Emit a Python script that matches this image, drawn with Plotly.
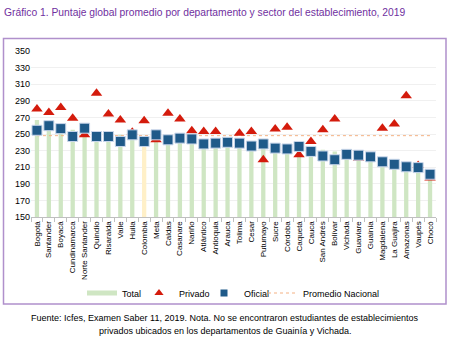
import plotly.graph_objects as go

categories = ["Bogotá", "Santander", "Boyacá", "Cundinamarca", "Norte Santander", "Quindío",
              "Risaralda", "Valle", "Huila", "Colombia", "Meta", "Caldas", "Casanare", "Nariño",
              "Atlántico", "Antioquia", "Arauca", "Tolima", "Cesar", "Putumayo", "Sucre",
              "Córdoba", "Caquetá", "Cauca", "San Andrés", "Bolívar", "Vichada", "Guaviare",
              "Guainía", "Magdalena", "La Guajira", "Amazonas", "Vaupés", "Chocó"]

total = [267, 262, 259, 255, 254, 250, 250, 249, 251, 248, 248, 247, 247, 246, 240, 242, 240,
         240, 237, 236, 235, 234, 233, 231, 231, 229, 226, 224, 222, 218, 214, 211, 210, 201]

privado = [280, 276, 282, 269, 249, 299, 274, 267, 252, 266, 243, 275, 268, 254, 253, 253, 238,
           251, 253, 219, 256, 258, 225, 241, 255, 268, None, 221, None, 257, 262, 296, 212, 197]

oficial = [254.5, 260, 256.5, 247, 257, 247, 247, 241, 249, 241, 249, 243, 245, 244, 238, 239,
           240, 239, 235.5, 238, 233, 232, 235, 229, 223.5, 219, 225.5, 224.5, 222.5, 216.5,
           213.5, 210.5, 209.5, 201.5]

promedio_nacional = 248

y_ticks = [150, 170, 190, 210, 230, 250, 270, 290, 310, 330, 350]

FONT = "Liberation Sans Narrow, Arial Narrow, Liberation Sans, Arial, sans-serif"
BASE = "Liberation Sans, Arial, sans-serif"
GREEN = "#cfe6c3"
YELLOW = "#fff0c8"
RED = "#d41b0c"
BLUE = "#1f5a89"
ORANGE = "#f4b183"

bar_colors = [YELLOW if c == "Colombia" else GREEN for c in categories]

fig = go.Figure()

fig.add_trace(go.Bar(
    x=categories, y=total, marker=dict(color=bar_colors, line=dict(width=0)),
    width=0.36, showlegend=False, name="Total", hoverinfo="x+y"))

fig.add_trace(go.Scatter(
    x=categories, y=[promedio_nacional] * len(categories), mode="lines",
    name="Promedio Nacional", line=dict(color=ORANGE, width=1, dash="dot"), showlegend=False))

fig.add_trace(go.Scatter(
    x=categories, y=privado, mode="markers", name="Privado", showlegend=False,
    marker=dict(symbol="triangle-up", size=10, color=RED, line=dict(width=0))))

fig.add_trace(go.Scatter(
    x=categories, y=oficial, mode="markers", name="Oficial", showlegend=False,
    marker=dict(symbol="square", size=10, color=BLUE, line=dict(color="#c9d6ea", width=1))))

# legend-only entries (smaller symbols as in the reference legend)
fig.add_trace(go.Scatter(x=[None], y=[None], mode="lines", name="Total", legendwidth=12,
                         line=dict(color=GREEN, width=5)))
fig.add_trace(go.Scatter(x=[None], y=[None], mode="markers", name="Privado", legendwidth=20,
                         marker=dict(symbol="triangle-up", size=8, color=RED)))
fig.add_trace(go.Scatter(x=[None], y=[None], mode="markers", name="Oficial", legendwidth=14,
                         marker=dict(symbol="square", size=7, color=BLUE)))
fig.add_trace(go.Scatter(x=[None], y=[None], mode="lines", name="Promedio Nacional",
                         legendwidth=90, line=dict(color=ORANGE, width=1, dash="dot")))

L, R, T, B = 31, 14, 51, 128
W = 450 - L - R
H = 345 - T - B

def px_x(px):
    return (px - L) / W

def px_y(py):
    return (345 - B - py) / H

fig.update_layout(
    width=450, height=345,
    margin=dict(l=L, r=R, t=T, b=B),
    paper_bgcolor="white", plot_bgcolor="white",
    font=dict(family=FONT, size=9, color="#000000"),
    title=dict(text="Gráfico 1. Puntaje global promedio por departamento y sector del establecimiento, 2019",
               x=4 / 450, xanchor="left", y=1 - 12 / 345, yanchor="middle",
               xref="container", yref="container",
               font=dict(family=BASE, size=10.3, color="#7030a0")),
    xaxis=dict(type="category", tickangle=-90, range=[-0.5, len(categories) - 0.5],
               tickfont=dict(family=FONT, size=8, color="#000000"),
               showgrid=False, showline=True, linecolor="#bfbfbf", linewidth=1,
               ticks="outside", ticklen=4, tickcolor="#bfbfbf", tickson="boundaries"),
    yaxis=dict(range=[150, 350], tickvals=y_ticks, showgrid=True, gridcolor="#f0f0f0",
               gridwidth=1, zeroline=False, showline=False,
               tickfont=dict(family=BASE, size=9, color="#000000")),
    legend=dict(orientation="h", x=px_x(82), xanchor="left", y=px_y(293), yanchor="middle",
                font=dict(family=FONT, size=9), itemwidth=30,
                bgcolor="rgba(0,0,0,0)", traceorder="normal"),
    showlegend=True,
)

fig.add_shape(type="rect", xref="paper", yref="paper",
              x0=px_x(3.5), x1=px_x(446), y0=px_y(304), y1=px_y(38.5),
              line=dict(color="#b090cc", width=1.5), fillcolor="rgba(0,0,0,0)", layer="below")

fig.add_annotation(xref="paper", yref="paper", x=px_x(225), y=px_y(318), showarrow=False,
                   xanchor="center", yanchor="middle",
                   text="Fuente: Icfes, Examen Saber 11, 2019. Nota. No se encontraron estudiantes de establecimientos",
                   font=dict(family=BASE, size=9, color="#000000"))
fig.add_annotation(xref="paper", yref="paper", x=px_x(225), y=px_y(331), showarrow=False,
                   xanchor="center", yanchor="middle",
                   text="privados ubicados en los departamentos de Guainía y Vichada.",
                   font=dict(family=BASE, size=9, color="#000000"))

fig.write_html("out.html")
